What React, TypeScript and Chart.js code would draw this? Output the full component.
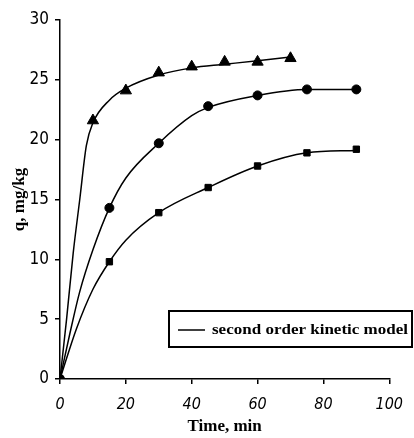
import React, { useEffect, useRef } from "react";
import { Chart, registerables } from "chart.js";

Chart.register(...registerables);

// Experimental points
const timeTri = [0, 10, 20, 30, 40, 50, 60, 70];
const qTri = [0, 21.6, 24.1, 25.6, 26.1, 26.5, 26.5, 26.8];
const timeCirc = [0, 15, 30, 45, 60, 75, 90];
const qCirc = [0, 14.3, 19.7, 22.8, 23.7, 24.2, 24.2];
const timeSq = [0, 15, 30, 45, 60, 75, 90];
const qSq = [0, 9.8, 13.9, 16.0, 17.8, 18.9, 19.2];

// Model curves
const modelTriT = [0, 2, 4, 6, 8, 10, 15, 20, 30, 40, 50, 60, 70];
const modelTriQ = [0, 5, 10.5, 15, 19.5, 21.4, 23.3, 24.3, 25.4, 26.0, 26.3, 26.6, 26.9];
const modelCircT = [0, 3, 6, 10, 15, 20, 30, 40, 45, 60, 75, 90];
const modelCircQ = [0, 3.8, 7.3, 10.8, 14.3, 16.8, 19.7, 22.0, 22.7, 23.7, 24.2, 24.2];
const modelSqT = [0, 5, 10, 15, 20, 30, 45, 60, 75, 90];
const modelSqQ = [0, 4.2, 7.5, 9.8, 11.6, 13.9, 16.0, 17.8, 18.9, 19.1];

const legendLabel = "second order kinetic model";
const xTitle = "Time, min";
const yTitle = "q, mg/kg";

const pts = (xs: number[], ys: number[]) => xs.map((x, i) => ({ x, y: ys[i] }));

const legendPlugin = {
  id: "boxLegend",
  afterDraw(chart: any) {
    const ctx = chart.ctx;
    ctx.save();
    ctx.strokeStyle = "#000";
    ctx.lineWidth = 2;
    ctx.strokeRect(169, 311, 243, 36);
    ctx.lineWidth = 1.5;
    ctx.beginPath();
    ctx.moveTo(178, 330);
    ctx.lineTo(205, 330);
    ctx.stroke();
    ctx.fillStyle = "#000";
    ctx.font = "bold 15px 'Liberation Serif', serif";
    ctx.textBaseline = "middle";
    const w = ctx.measureText(legendLabel).width;
    const target = 196;
    ctx.translate(212, 330);
    ctx.scale(target / w, 1);
    ctx.fillText(legendLabel, 0, 0);
    ctx.restore();
  },
};

export default function App() {
  const ref = useRef<HTMLCanvasElement | null>(null);
  useEffect(() => {
    if (!ref.current) return;
    const lineDs = (xs: number[], ys: number[]) => ({
      type: "line" as const,
      data: pts(xs, ys),
      borderColor: "#000",
      borderWidth: 1.5,
      pointRadius: 0,
      cubicInterpolationMode: "monotone" as const,
      fill: false,
    });
    const markDs = (xs: number[], ys: number[], style: string, r: number) => ({
      type: "scatter" as const,
      data: pts(xs, ys),
      pointStyle: style,
      pointRadius: r,
      backgroundColor: "#000",
      borderColor: "#000",
      borderWidth: 1,
      showLine: false,
    });
    const chart = new Chart(ref.current, {
      type: "scatter",
      data: {
        datasets: [
          lineDs(modelTriT, modelTriQ),
          lineDs(modelCircT, modelCircQ),
          lineDs(modelSqT, modelSqQ),
          markDs(timeTri, qTri, "triangle", 6.5),
          markDs(timeCirc, qCirc, "circle", 4.5),
          markDs(timeSq, qSq, "rect", 4.5),
        ] as any,
      },
      options: {
        animation: false,
        responsive: true,
        maintainAspectRatio: false,
        layout: { padding: { left: 0, top: 20, right: 23, bottom: 0 } },
        plugins: { legend: { display: false }, tooltip: { enabled: false } },
        scales: {
          x: {
            type: "linear",
            min: 0,
            max: 100,
            ticks: {
              stepSize: 20,
              color: "#000",
              padding: 11,
              font: { family: "'Liberation Sans Narrow', 'DejaVu Sans Condensed', sans-serif", size: 16, style: "italic" },
            },
            grid: { drawOnChartArea: false, drawTicks: true, tickLength: 5, color: "#000", lineWidth: 1.5 },
            border: { color: "#000", width: 1.5 },
            title: {
              display: true,
              text: xTitle,
              color: "#000",
              font: { family: "'Liberation Serif', serif", size: 17, weight: "bold" },
              padding: { top: 0, bottom: 1 },
            },
            afterFit(scale: any) {
              scale.height = 59;
            },
          },
          y: {
            type: "linear",
            min: 0,
            max: 30,
            ticks: {
              stepSize: 5,
              color: "#000",
              padding: 6,
              font: { family: "'Liberation Sans Narrow', 'DejaVu Sans Condensed', sans-serif", size: 17 },
            },
            grid: { drawOnChartArea: false, drawTicks: true, tickLength: 5, color: "#000", lineWidth: 1.5 },
            border: { color: "#000", width: 1.5 },
            title: {
              display: true,
              text: yTitle,
              color: "#000",
              font: { family: "'Liberation Serif', serif", size: 17, weight: "bold" },
              padding: { top: 9, bottom: 0 },
            },
            afterFit(scale: any) {
              scale.width = 60;
            },
          },
        },
      },
      plugins: [legendPlugin],
    });
    return () => chart.destroy();
  }, []);
  return (
    <div style={{ position: "absolute", left: 0, top: 0, width: 414, height: 438, background: "#fff" }}>
      <canvas ref={ref} />
    </div>
  );
}
